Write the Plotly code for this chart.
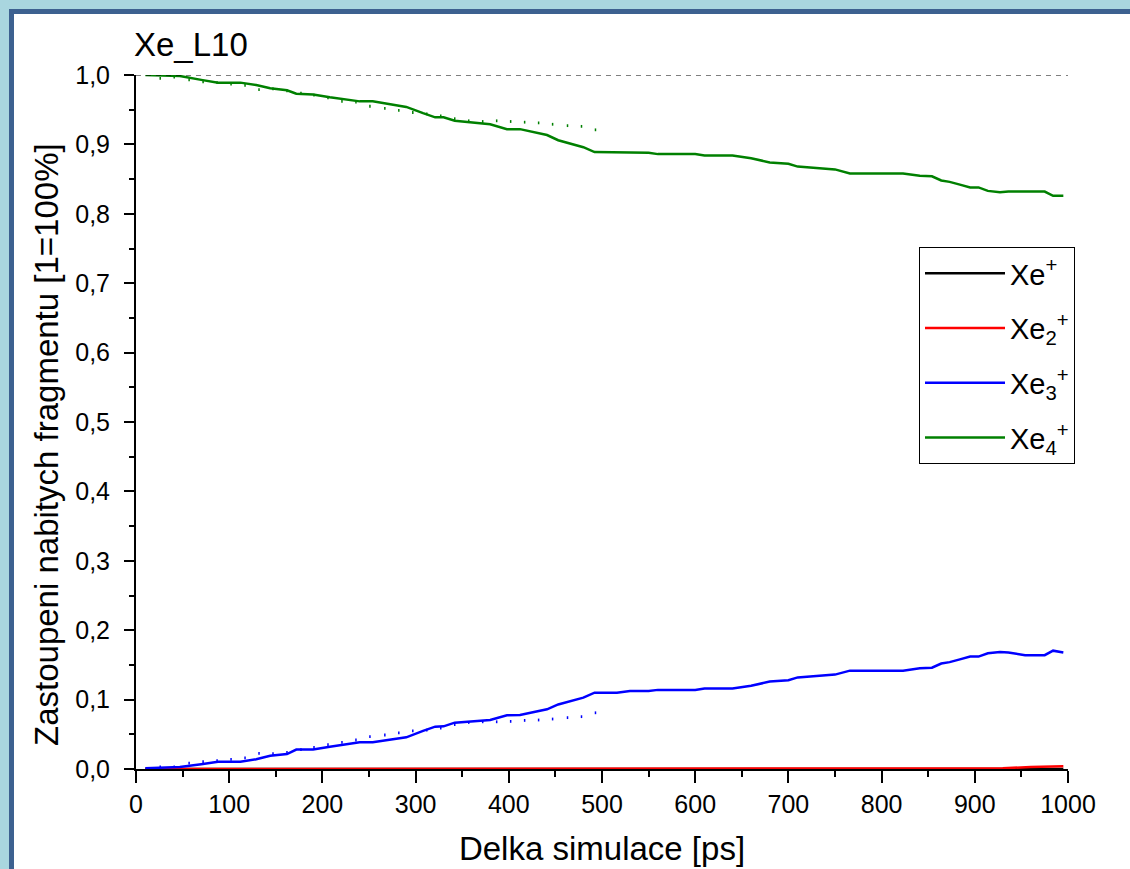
import plotly.graph_objects as go

# ---------------- data ----------------
T = [10, 47, 70, 88, 112, 129, 144, 162, 172, 190, 208, 240, 254, 290, 308, 321, 330, 342,
     380, 398, 412, 441, 453, 480, 492, 516, 530, 550, 560, 600, 610, 640, 660, 680, 700,
     710, 730, 750, 766, 823, 841, 854, 864, 873, 884, 895, 904, 914, 927, 936, 954, 975,
     984, 995]

xe4 = [1.0, 0.9986, 0.993, 0.989, 0.989, 0.9856, 0.981, 0.978, 0.973, 0.972, 0.968, 0.962,
       0.962, 0.954, 0.945, 0.939, 0.939, 0.934, 0.929, 0.922, 0.922, 0.9135, 0.906, 0.896,
       0.889, 0.889, 0.888, 0.888, 0.886, 0.886, 0.884, 0.884, 0.88, 0.874, 0.872, 0.868,
       0.866, 0.864, 0.858, 0.858, 0.855, 0.854, 0.848, 0.846, 0.842, 0.838, 0.838, 0.833,
       0.831, 0.832, 0.832, 0.832, 0.826, 0.826]

xe3 = [0.001, 0.003, 0.007, 0.0105, 0.0105, 0.014, 0.019, 0.0216, 0.028, 0.028, 0.032,
       0.0384, 0.0384, 0.0456, 0.055, 0.061, 0.0615, 0.0668, 0.0706, 0.0773, 0.0778, 0.086,
       0.093, 0.1028, 0.11, 0.11, 0.1124, 0.1124, 0.114, 0.114, 0.116, 0.116, 0.12, 0.126,
       0.128, 0.132, 0.134, 0.136, 0.1417, 0.1417, 0.145, 0.146, 0.152, 0.154, 0.158, 0.162,
       0.162, 0.1667, 0.1686, 0.168, 0.164, 0.164, 0.1705, 0.168]

xe2_t = [10, 930, 960, 995]
xe2 = [0.0, 0.001, 0.003, 0.004]

xe1_t = [10, 995]
xe1 = [0.0, 0.0]

# second (dotted) run, shorter simulation
D_T = [26, 41, 57, 72, 87, 102, 117, 132, 147, 162, 177, 191, 206, 221, 236, 251, 267, 282,
       297, 312, 327, 342, 357, 372, 387, 402, 417, 432, 447, 463, 478, 493]
xe4_b = [0.995, 0.997, 0.993, 0.990, 0.989, 0.987, 0.985, 0.979, 0.980, 0.977, 0.974, 0.971,
         0.967, 0.962, 0.961, 0.955, 0.952, 0.949, 0.946, 0.944, 0.941, 0.937, 0.934, 0.933,
         0.934, 0.933, 0.932, 0.931, 0.929, 0.927, 0.926, 0.921]
xe3_b = [0.003, 0.003, 0.0086, 0.0106, 0.012, 0.014, 0.016, 0.0226, 0.022, 0.024, 0.028,
         0.031, 0.035, 0.0384, 0.0418, 0.0466, 0.049, 0.052, 0.055, 0.056, 0.059, 0.064,
         0.067, 0.068, 0.068, 0.0686, 0.070, 0.0706, 0.072, 0.074, 0.0754, 0.081]

x_ticks = list(range(0, 1001, 100))
y_ticks = [i / 10 for i in range(11)]
y_ticktext = ["0,0", "0,1", "0,2", "0,3", "0,4", "0,5", "0,6", "0,7", "0,8", "0,9", "1,0"]

# ---------------- figure ----------------
W, H = 1130, 869
L, R, TOP, B = 136, 62, 75, 100
PW, PH = W - L - R, H - TOP - B
FONT = "Arial, Liberation Sans, sans-serif"


def px(xp):
    return (xp - L) / PW


def py(yp):
    return (H - B - yp) / PH


fig = go.Figure()

# dotted run
fig.add_trace(go.Scatter(x=D_T, y=xe4_b, mode="markers", showlegend=False, hoverinfo="skip",
                         marker=dict(symbol="line-ns", size=2, line=dict(color="#008000", width=1.5))))
fig.add_trace(go.Scatter(x=D_T, y=xe3_b, mode="markers", showlegend=False, hoverinfo="skip",
                         marker=dict(symbol="line-ns", size=2, line=dict(color="#0000ff", width=1.5))))

fig.add_trace(go.Scatter(x=xe1_t, y=xe1, mode="lines", name="Xe<sup>+</sup>", legendgroup="a",
                         line=dict(color="black", width=2.5)))
fig.add_trace(go.Scatter(x=xe2_t, y=xe2, mode="lines", name="Xe<sub>2</sub><sup>+</sup>",
                         legendgroup="b", line=dict(color="#ff0000", width=2.5)))
fig.add_trace(go.Scatter(x=T, y=xe3, mode="lines", name="Xe<sub>3</sub><sup>+</sup>",
                         legendgroup="c", line=dict(color="#0000ff", width=2.5)))
fig.add_trace(go.Scatter(x=T, y=xe4, mode="lines", name="Xe<sub>4</sub><sup>+</sup>",
                         legendgroup="d", line=dict(color="#008000", width=2.5)))

shapes = [
    # decorative frame
    dict(type="rect", xref="paper", yref="paper", x0=px(9), x1=px(1140), y0=py(880), y1=py(9),
         fillcolor="#3D6190", line=dict(width=0), layer="below"),
    dict(type="rect", xref="paper", yref="paper", x0=px(14), x1=px(1140), y0=py(880), y1=py(14),
         fillcolor="white", line=dict(width=0), layer="below"),
    # reference line at 1.0
    dict(type="line", xref="x", yref="y", x0=0, x1=1000, y0=1.0, y1=1.0,
         line=dict(color="black", width=1, dash="5px,5px")),
]

fig.update_layout(
    width=W, height=H,
    margin=dict(l=L, r=R, t=TOP, b=B, autoexpand=False),
    paper_bgcolor="#A9D6DF",
    plot_bgcolor="white",
    font=dict(family=FONT, color="black"),
    shapes=shapes,
    annotations=[
        dict(text="Xe_L10", xref="paper", yref="paper", x=px(132), y=py(44),
             xanchor="left", yanchor="middle", showarrow=False,
             font=dict(size=33, family=FONT, color="black")),
        dict(text="Zastoupeni nabitych fragmentu [1=100%]", xref="paper", yref="paper",
             x=px(46), y=py(445), xanchor="center", yanchor="middle", textangle=-90,
             showarrow=False, font=dict(size=33, family=FONT, color="black")),
    ],
    legend=dict(x=px(919), y=py(247), xanchor="left", yanchor="top",
                bgcolor="white", bordercolor="black", borderwidth=1,
                font=dict(size=29, family=FONT), itemwidth=80, tracegroupgap=14),
    showlegend=True,
)

fig.update_xaxes(range=[0, 1000], tickvals=x_ticks, ticks="outside", ticklen=12, tickwidth=2,
                 tickcolor="black", showline=True, linecolor="black", linewidth=2,
                 showgrid=False, zeroline=False, tickfont=dict(size=25, family=FONT),
                 automargin=False,
                 minor=dict(tickvals=list(range(50, 1000, 100)), ticks="outside", ticklen=6,
                            tickwidth=2, tickcolor="black", showgrid=False),
                 title=dict(text="Delka simulace [ps]", font=dict(size=33, family=FONT), standoff=20))

fig.update_yaxes(range=[0, 1.0], tickvals=y_ticks, ticktext=y_ticktext, ticks="outside",
                 ticklen=10, tickwidth=2, tickcolor="black", showline=True, linecolor="black",
                 linewidth=2, showgrid=False, zeroline=False, tickfont=dict(size=25, family=FONT),
                 ticklabelstandoff=9, automargin=False,
                 minor=dict(tickvals=[0.05 + i / 10 for i in range(10)], ticks="outside", ticklen=5,
                            tickwidth=2, tickcolor="black", showgrid=False))

fig.write_html("out.html")
